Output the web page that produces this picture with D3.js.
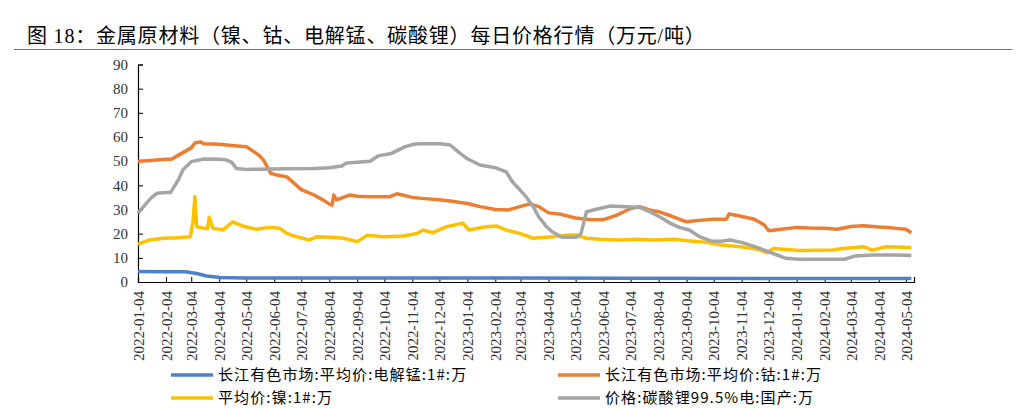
<!DOCTYPE html>
<html><head><meta charset="utf-8">
<script src="https://cdn.jsdelivr.net/npm/d3@7"></script>
<style>body{margin:0;background:#fff}svg{display:block}</style>
</head><body>
<svg id="c" width="1022" height="409"></svg>
<script>
const titleText = "图 18：金属原材料（镍、钴、电解锰、碳酸锂）每日价格行情（万元/吨）";
const tickLabels = ["2022-01-04","2022-02-04","2022-03-04","2022-04-04","2022-05-04","2022-06-04","2022-07-04","2022-08-04","2022-09-04","2022-10-04","2022-11-04","2022-12-04","2023-01-04","2023-02-04","2023-03-04","2023-04-04","2023-05-04","2023-06-04","2023-07-04","2023-08-04","2023-09-04","2023-10-04","2023-11-04","2023-12-04","2024-01-04","2024-02-04","2024-03-04","2024-04-04","2024-05-04"];
const yTicks = [0,10,20,30,40,50,60,70,80,90];
const seriesNames = ["长江有色市场:平均价:电解锰:1#:万","长江有色市场:平均价:钴:1#:万","平均价:镍:1#:万","价格:碳酸锂99.5%电:国产:万"];
const seriesColors = ["#4f80cc","#ed7d31","#ffc000","#a5a5a5"];

const mnDates = ["2022-01-04","2022-02-04","2022-02-26","2022-03-10","2022-03-21","2022-04-05","2022-05-01","2022-08-01","2022-12-30","2023-06-30","2023-12-01","2024-05-10"];
const mnValues = [4.3,4.2,4.2,3.5,2.5,1.9,1.7,1.7,1.7,1.6,1.4,1.4];

const coDates = ["2022-01-04","2022-01-18","2022-02-04","2022-02-10","2022-02-18","2022-03-04","2022-03-08","2022-03-14","2022-03-18","2022-04-04","2022-04-18","2022-05-04","2022-05-18","2022-05-23","2022-05-31","2022-06-04","2022-06-18","2022-07-04","2022-07-18","2022-07-28","2022-08-04","2022-08-07","2022-08-09","2022-08-12","2022-08-18","2022-08-27","2022-09-04","2022-09-18","2022-10-04","2022-10-10","2022-10-18","2022-11-04","2022-11-18","2022-12-04","2022-12-18","2023-01-04","2023-01-18","2023-02-04","2023-02-18","2023-03-04","2023-03-14","2023-03-24","2023-04-04","2023-04-18","2023-05-04","2023-05-18","2023-06-04","2023-06-18","2023-07-04","2023-07-14","2023-07-25","2023-08-04","2023-08-18","2023-09-04","2023-09-18","2023-10-04","2023-10-18","2023-10-21","2023-11-02","2023-11-18","2023-11-29","2023-12-04","2023-12-18","2024-01-04","2024-01-18","2024-02-04","2024-02-18","2024-03-04","2024-03-18","2024-04-04","2024-04-18","2024-05-04","2024-05-10"];
const coValues = [50.0,50.3,50.8,50.8,52.5,55.5,57.5,58.0,57.2,57.0,56.5,56.0,52.5,50.5,45.0,44.5,43.5,38.2,36.0,34.0,32.2,31.8,36.0,34.0,34.8,36.0,35.5,35.3,35.3,35.3,36.5,35.0,34.5,34.0,33.4,32.5,31.2,30.0,29.8,31.3,32.3,31.2,28.6,28.0,26.5,25.9,25.8,27.6,30.4,31.2,29.8,29.1,27.3,24.9,25.5,26.0,26.0,28.1,27.3,26.0,23.6,21.2,21.8,22.6,22.3,22.2,21.8,23.0,23.3,22.8,22.4,21.8,20.4];

const niDates = ["2022-01-04","2022-01-17","2022-02-01","2022-02-16","2022-03-03","2022-03-06","2022-03-08","2022-03-10","2022-03-19","2022-03-22","2022-03-24","2022-03-28","2022-04-08","2022-04-19","2022-04-30","2022-05-15","2022-05-30","2022-06-10","2022-06-18","2022-06-29","2022-07-13","2022-07-21","2022-08-05","2022-08-20","2022-09-04","2022-09-15","2022-10-03","2022-10-25","2022-11-09","2022-11-16","2022-11-27","2022-12-12","2022-12-30","2023-01-06","2023-01-25","2023-02-05","2023-02-16","2023-03-03","2023-03-18","2023-04-09","2023-04-24","2023-05-05","2023-05-16","2023-05-31","2023-06-22","2023-07-11","2023-07-29","2023-08-21","2023-09-05","2023-09-24","2023-10-12","2023-11-03","2023-11-22","2023-12-02","2023-12-09","2024-01-07","2024-02-13","2024-02-24","2024-03-18","2024-03-28","2024-04-12","2024-05-10"];
const niValues = [15.7,17.4,18.1,18.3,18.7,25.0,35.3,22.9,22.2,22.0,26.8,22.2,21.5,24.9,23.2,21.8,22.6,22.2,20.1,18.7,17.4,18.7,18.5,18.1,16.7,19.4,18.7,19.0,20.1,21.5,20.4,22.9,24.3,21.5,22.9,23.2,21.5,20.1,18.1,18.7,19.4,19.4,18.1,17.7,17.4,17.7,17.4,17.7,17.1,16.5,15.3,14.6,13.5,12.1,13.9,13.0,13.2,13.9,14.6,13.2,14.6,14.3];

const liDates = ["2022-01-04","2022-01-18","2022-01-25","2022-02-04","2022-02-09","2022-02-18","2022-02-23","2022-03-04","2022-03-18","2022-04-04","2022-04-11","2022-04-18","2022-04-23","2022-05-04","2022-05-18","2022-06-18","2022-07-18","2022-08-04","2022-08-18","2022-08-22","2022-09-04","2022-09-18","2022-09-28","2022-10-12","2022-10-27","2022-11-07","2022-11-18","2022-12-04","2022-12-16","2022-12-27","2023-01-04","2023-01-18","2023-02-04","2023-02-16","2023-02-23","2023-03-04","2023-03-10","2023-03-18","2023-03-24","2023-04-01","2023-04-08","2023-04-19","2023-05-05","2023-05-10","2023-05-16","2023-05-27","2023-06-11","2023-07-04","2023-07-14","2023-07-25","2023-08-05","2023-08-16","2023-08-27","2023-09-07","2023-09-18","2023-10-01","2023-10-12","2023-10-22","2023-11-05","2023-11-24","2023-12-08","2023-12-23","2024-01-07","2024-02-26","2024-03-09","2024-03-28","2024-04-25","2024-05-10"];
const liValues = [28.5,34.6,36.7,37.0,37.0,42.5,46.5,49.8,50.9,50.8,50.6,49.5,47.0,46.6,46.7,46.9,47.0,47.3,48.0,49.1,49.6,50.0,52.3,53.2,56.0,57.1,57.2,57.2,56.7,53.2,51.0,48.4,47.3,45.6,41.5,37.8,35.3,31.2,27.0,23.2,20.8,18.5,18.5,20.1,29.1,30.1,31.4,31.0,30.9,29.1,27.0,24.5,22.6,21.5,18.8,17.0,16.9,17.4,16.3,13.9,11.9,9.8,9.4,9.4,10.8,11.2,11.2,11.0];

const parse = d3.timeParse("%Y-%m-%d");
const svg = d3.select("#c");

// title
svg.append("text").attr("x",27).attr("y",43)
  .attr("font-family","'Liberation Serif','Noto Sans CJK SC',serif")
  .attr("font-size",20).attr("letter-spacing",0.8).attr("fill","#000").text(titleText);
svg.append("line").attr("x1",14).attr("x2",1012).attr("y1",49.5).attr("y2",49.5)
  .attr("stroke","#4472c4").attr("stroke-width",1);

const x = d3.scaleTime().domain([parse("2022-01-04"), parse("2024-05-13")]).range([138, 914]);
const y = d3.scaleLinear().domain([0,90]).range([282, 64.5]);

// axes
const yAxis = d3.axisLeft(y).tickValues(yTicks).tickSize(-5).tickPadding(10).tickFormat(d3.format("d"));
const gy = svg.append("g").attr("transform","translate(138,0)").call(yAxis);
gy.select(".domain").attr("stroke","#000").attr("stroke-width",1.2);
gy.selectAll(".tick line").attr("stroke","#000");
gy.selectAll("text").attr("font-family","'Liberation Serif',serif").attr("font-size",15).attr("fill","#333");

const tickDates = tickLabels.map(parse);
const xAxis = d3.axisBottom(x).tickValues(tickDates).tickSize(-5).tickPadding(8).tickFormat(d3.timeFormat("%Y-%m-%d"));
const gx = svg.append("g").attr("transform","translate(0,282)").call(xAxis);
gx.select(".domain").attr("stroke","#000").attr("stroke-width",1.2);
gx.selectAll(".tick line").attr("stroke","#000");
gx.selectAll("text").attr("font-family","'Liberation Serif',serif").attr("font-size",15).attr("fill","#333")
  .attr("text-anchor","end").attr("dy","0.35em").attr("transform","translate(0,9) rotate(-90)").attr("x",0).attr("y",0);

// lines
const line = d3.line().x(d=>x(d[0])).y(d=>y(d[1]));
const series = [
  [mnDates, mnValues],
  [coDates, coValues],
  [niDates, niValues],
  [liDates, liValues]
];
const drawOrder = [1,2,3,0];
drawOrder.forEach(i=>{
  const [ds, vs] = series[i];
  const pts = ds.map((d,j)=>[parse(d), vs[j]]);
  svg.append("path").datum(pts).attr("d",line).attr("fill","none")
    .attr("stroke",seriesColors[i]).attr("stroke-width",3.5).attr("stroke-linejoin","round");
});

// legend
const legPos = [[171,375],[558,375],[171,398],[558,398]];
seriesNames.forEach((n,i)=>{
  const [lx,ly] = legPos[i];
  svg.append("line").attr("x1",lx).attr("x2",lx+42).attr("y1",ly).attr("y2",ly)
    .attr("stroke",seriesColors[i]).attr("stroke-width",3.5);
  svg.append("text").attr("x",lx+47).attr("y",ly).attr("dy","0.35em")
    .attr("font-family","'Noto Sans CJK SC',sans-serif").attr("font-size",15).attr("letter-spacing",1.1)
    .attr("fill","#000").text(n);
});
</script>
</body></html>
